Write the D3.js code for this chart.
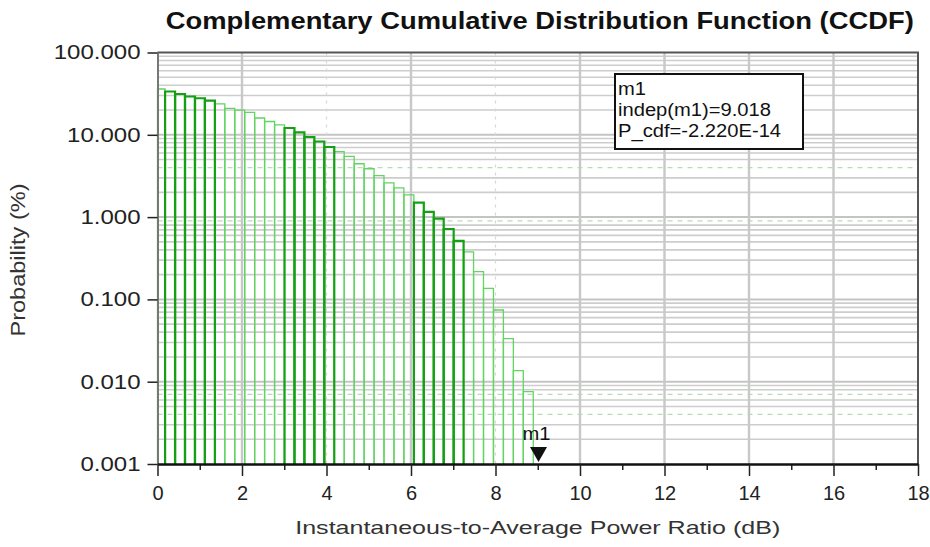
<!DOCTYPE html>
<html><head><meta charset="utf-8">
<script src="https://cdn.jsdelivr.net/npm/d3@7/dist/d3.min.js"></script>
<style>
body{margin:0;background:#fff;}
svg{display:block;font-family:"Liberation Sans",Arial,Helvetica,sans-serif;}
</style>
</head><body>
<svg id="chart" width="930" height="547"></svg>
<script>
// ---------- data ----------
const chartTitle = "Complementary Cumulative Distribution Function (CCDF)";
const xAxisTitle = "Instantaneous-to-Average Power Ratio (dB)";
const yAxisTitle = "Probability (%)";
const xTickValues = [0, 2, 4, 6, 8, 10, 12, 14, 16, 18];
const xMinorTickValues = [1, 3, 5, 7, 9, 11, 13, 15, 17];
const yTickValues = [0.001, 0.01, 0.1, 1, 10, 100];
const yTickLabels = ["0.001", "0.010", "0.100", "1.000", "10.000", "100.000"];
// bin edges (dB) of the CCDF histogram
const binEdges = [0, 0.18, 0.416, 0.651, 0.887, 1.122, 1.358, 1.593, 1.829, 2.064, 2.3,
  2.535, 2.771, 3.006, 3.242, 3.477, 3.713, 3.948, 4.184, 4.419, 4.655,
  4.89, 5.126, 5.361, 5.597, 5.832, 6.068, 6.303, 6.539, 6.774, 7.01,
  7.245, 7.481, 7.716, 7.952, 8.187, 8.423, 8.658, 8.894];
// probability (%) of each bin
const ccdfPercent = [36.0, 33.6, 31.3, 29.2, 27.8, 26.0, 23.7, 21.0, 20.0, 18.7,
  16.0, 14.5, 13.2, 12.1, 10.7, 9.4, 8.29, 7.11, 6.23, 5.48,
  4.45, 3.87, 3.20, 2.60, 2.27, 1.86, 1.50, 1.16, 0.956, 0.717,
  0.515, 0.377, 0.217, 0.136, 0.0743, 0.0333, 0.0136, 0.00756];
const markerName = "m1";
const markerX = 9.018;
const markerLines = ["m1", "indep(m1)=9.018", "P_cdf=-2.220E-14"];

// ---------- layout ----------
const L = 157.5, R = 918, T = 52.5, B = 464;
const svg = d3.select("#chart");
const x = d3.scaleLinear().domain([0, 18]).range([L, R]);
const y = d3.scaleLog().domain([0.001, 100]).range([B, T]);

// grid
const minorY = [];
[0.001, 0.01, 0.1, 1, 10].forEach(d => { for (let m = 2; m <= 9; m++) minorY.push(d * m); });
const dashedY = [4, 0.9, 0.007, 0.004];
const isDashed = v => dashedY.some(t => Math.abs(v / t - 1) < 1e-6);
const grid = svg.append("g");
grid.selectAll("line.hm").data(minorY).join("line")
  .attr("x1", L).attr("x2", R).attr("y1", d => y(d)).attr("y2", d => y(d))
  .attr("stroke", d => isDashed(d) ? "#b8dcb8" : "#cdcdcd")
  .attr("stroke-width", d => isDashed(d) ? 1.2 : 1.6)
  .attr("stroke-dasharray", d => isDashed(d) ? "5,5" : null);
grid.selectAll("line.hM").data(yTickValues.slice(1, 5)).join("line")
  .attr("x1", L).attr("x2", R).attr("y1", d => y(d)).attr("y2", d => y(d))
  .attr("stroke", "#c4c4c4").attr("stroke-width", 2);
grid.selectAll("line.v").data(xTickValues.slice(1, 9)).join("line")
  .attr("x1", d => x(d)).attr("x2", d => x(d)).attr("y1", T).attr("y2", B)
  .attr("stroke", d => (d === 4 || d === 8) ? "#d8d8d8" : "#c8c8c8")
  .attr("stroke-width", d => (d === 4 || d === 8) ? 1.2 : 2.4)
  .attr("stroke-dasharray", d => (d === 4 || d === 8) ? "3,5" : null);

// bars
const bins = ccdfPercent.map((v, i) => ({ i, x0: binEdges[i], x1: binEdges[i + 1], v }));
const isDark = i => (((i - 0.5) / 12.3) % 1 + 1) % 1 < 0.42;
const barPath = d => `M${x(d.x0)},${B}V${y(d.v)}H${x(d.x1)}V${B}`;
const barG = svg.append("g").attr("fill", "none");
barG.selectAll("path.l").data(bins.filter(d => !isDark(d.i))).join("path")
  .attr("d", barPath).attr("stroke", "#62d462").attr("stroke-width", 1.3);
barG.selectAll("path.d").data(bins.filter(d => isDark(d.i))).join("path")
  .attr("d", barPath).attr("stroke", "#13a013").attr("stroke-width", 2.2);

// frame (top & right)
svg.append("path").attr("d", `M${L},${T}H${R}V${B}`)
  .attr("fill", "none").attr("stroke", "#555").attr("stroke-width", 2);

// y axis
const yAxis = svg.append("g").attr("transform", `translate(${L},0)`)
  .call(d3.axisLeft(y).tickValues(yTickValues)
    .tickFormat((d, i) => yTickLabels[i]).tickSize(10).tickSizeOuter(0).tickPadding(7));
yAxis.select(".domain").attr("stroke", "#777").attr("stroke-width", 2);
yAxis.selectAll(".tick line").attr("stroke", "#222").attr("stroke-width", 1.5);
yAxis.selectAll(".tick text").attr("font-size", 20).attr("fill", "#222")
  .attr("font-family", "Liberation Sans, Arial, sans-serif")
  .each(function () { const w = this.getComputedTextLength(); d3.select(this).attr("textLength", w * 1.2).attr("lengthAdjust", "spacingAndGlyphs"); });

// x axis
const xAxisMinor = svg.append("g").attr("transform", `translate(0,${B})`)
  .call(d3.axisBottom(x).tickValues(xMinorTickValues).tickFormat("").tickSize(6).tickSizeOuter(0));
xAxisMinor.select(".domain").remove();
xAxisMinor.selectAll(".tick line").attr("stroke", "#222").attr("stroke-width", 1.5);
const xAxis = svg.append("g").attr("transform", `translate(0,${B})`)
  .call(d3.axisBottom(x).tickValues(xTickValues).tickFormat(d3.format("d")).tickSize(12).tickSizeOuter(0).tickPadding(10));
xAxis.select(".domain").attr("stroke", "#111").attr("stroke-width", 2.5);
xAxis.selectAll(".tick line").attr("stroke", "#222").attr("stroke-width", 1.5);
xAxis.selectAll(".tick text").attr("font-size", 20).attr("fill", "#222")
  .attr("font-family", "Liberation Sans, Arial, sans-serif");

// titles
svg.append("text").attr("x", (L + R) / 2 + 2).attr("y", 29).attr("text-anchor", "middle")
  .attr("font-size", 23).attr("font-weight", "bold").attr("fill", "#111")
  .attr("textLength", 748).attr("lengthAdjust", "spacingAndGlyphs").text(chartTitle);
svg.append("text").attr("x", (L + R) / 2).attr("y", 534).attr("text-anchor", "middle")
  .attr("font-size", 19).attr("fill", "#333")
  .attr("textLength", 485).attr("lengthAdjust", "spacingAndGlyphs").text(xAxisTitle);
svg.append("text").attr("transform", "translate(25,260) rotate(-90)").attr("text-anchor", "middle")
  .attr("font-size", 20).attr("fill", "#333")
  .attr("textLength", 153).attr("lengthAdjust", "spacingAndGlyphs").text(yAxisTitle);

// marker
const mx = x(markerX), my = y(0.001);
svg.append("path").attr("d", `M${mx - 8.5},${my - 17}H${mx + 8.5}L${mx},${my - 2}Z`).attr("fill", "#111");
svg.append("text").attr("x", mx - 16).attr("y", my - 24).attr("font-size", 18).attr("fill", "#111")
  .attr("textLength", 28).attr("lengthAdjust", "spacingAndGlyphs").text(markerName);

// marker readout box
const box = svg.append("g");
box.append("rect").attr("x", 615).attr("y", 74).attr("width", 188).attr("height", 75)
  .attr("fill", "#fff").attr("stroke", "#111").attr("stroke-width", 2);
box.selectAll("text").data(markerLines).join("text")
  .attr("x", 618).attr("y", (d, i) => 95 + i * 21).attr("font-size", 18).attr("fill", "#111")
  .text(d => d)
  .each(function () { const w = this.getComputedTextLength(); d3.select(this).attr("textLength", w * 1.12).attr("lengthAdjust", "spacingAndGlyphs"); });
</script>
</body></html>
